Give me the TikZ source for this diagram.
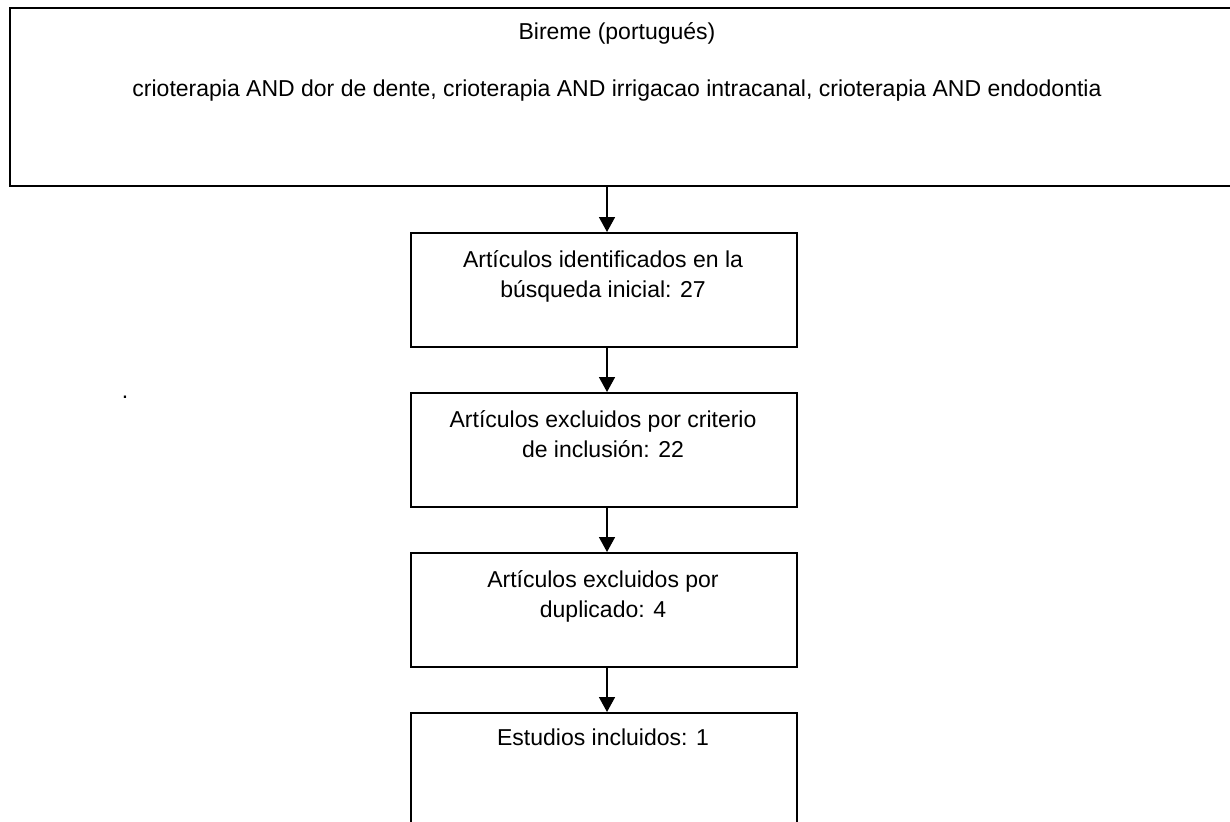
\documentclass[tikz,border=0pt]{standalone}
\usepackage{fontspec}
\setmainfont{Liberation Sans}
\usetikzlibrary{arrows.meta}
\begin{document}
\begin{tikzpicture}[x=1pt,y=-1pt,
  box/.style={draw, line width=1.6pt, minimum width=386pt, minimum height=114pt, anchor=north west, inner sep=0pt},
  txt/.style={anchor=north, align=center, font=\fontsize{23}{30}\selectfont, inner sep=0pt},
  arr/.style={-{Triangle[length=15pt,width=16pt]}, line width=1.6pt}]
\useasboundingbox (0,0) rectangle (1230,821);
\node[box, minimum width=1250pt, minimum height=178pt] (top) at (9,7) {};
\node[txt] (t1) at (617,22) {Bireme (portugués)};
\node[txt] (t1b) at (617,80) {crioterapia AND dor de dente, crioterapia AND irrigacao intracanal, crioterapia AND endodontia};
\node[box] (b2) at (410,232) {};
\node[txt] (t2) at (603,250) {Artículos identificados en la\\búsqueda inicial: 27};
\node[box] (b3) at (410,392) {};
\node[txt] (t3) at (603,410) {Artículos excluidos por criterio\\de inclusión: 22};
\node[box] (b4) at (410,552) {};
\node[txt] (t4) at (603,570) {Artículos excluidos por\\duplicado: 4};
\node[box, minimum height=130pt] (b5) at (410,712) {};
\node[txt] (t5) at (603,729) {Estudios incluidos: 1};
\node[txt] (dot) at (125,396) {.};
\coordinate (ax) at (607,0);
\draw[arr] (top.south -| ax) -- (b2.north -| ax);
\draw[arr] (b2.south -| ax) -- (b3.north -| ax);
\draw[arr] (b3.south -| ax) -- (b4.north -| ax);
\draw[arr] (b4.south -| ax) -- (b5.north -| ax);
\end{tikzpicture}
\end{document}
